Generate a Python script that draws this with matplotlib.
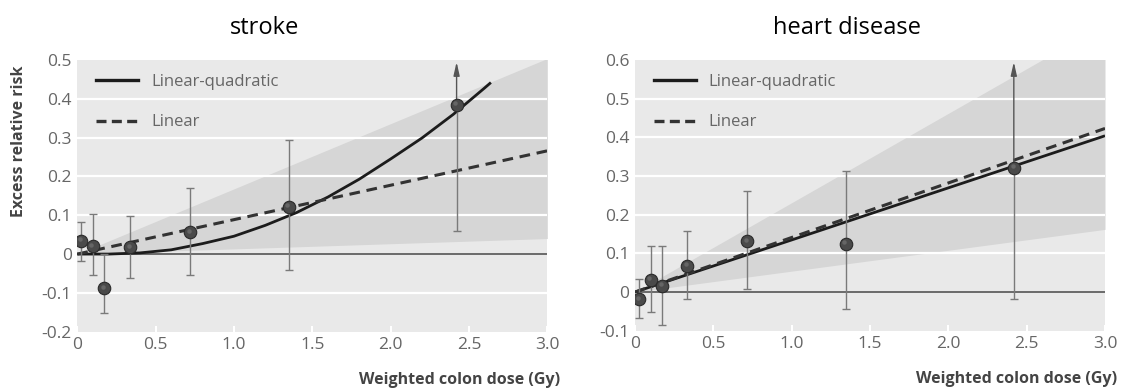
import numpy as np
import matplotlib
matplotlib.use("Agg")
import matplotlib.pyplot as plt
from matplotlib.lines import Line2D

plt.rcParams['font.family'] = ['Open Sans', 'DejaVu Sans']

# ---------------- data ----------------
titles = ["stroke", "heart disease"]

# stroke
stroke_dose = [0.023, 0.098, 0.169, 0.335, 0.720, 1.349, 2.421]
stroke_err = [0.034, 0.020, -0.088, 0.017, 0.056, 0.122, 0.385]
stroke_lo = [-0.017, -0.054, -0.151, -0.061, -0.054, -0.040, 0.059]
stroke_hi = [0.082, 0.103, 0.000, 0.099, 0.170, 0.294, 0.500]
stroke_open = [False, False, False, False, False, False, True]
stroke_lq_x = [0, 0.2, 0.4, 0.6, 0.8, 1.0, 1.2, 1.4, 1.6, 1.8, 2.0, 2.2, 2.4, 2.6, 2.64]
stroke_lq_y = [0, 0.000, 0.003, 0.011, 0.027, 0.046, 0.074, 0.107, 0.147, 0.193,
               0.245, 0.299, 0.360, 0.428, 0.442]
stroke_lin_x = [0, 3.0]
stroke_lin_y = [0, 0.266]
stroke_ci_x = [0, 3.0]
stroke_ci_lo = [0, 0.040]
stroke_ci_hi = [0, 0.504]

# heart disease
heart_dose = [0.025, 0.100, 0.174, 0.331, 0.715, 1.345, 2.418]
heart_err = [-0.019, 0.032, 0.016, 0.067, 0.131, 0.124, 0.321]
heart_lo = [-0.068, -0.052, -0.086, -0.019, 0.009, -0.045, -0.017]
heart_hi = [0.034, 0.118, 0.118, 0.157, 0.261, 0.313, 0.600]
heart_open = [False, False, False, False, False, False, True]
heart_lq_x = [0, 3.0]
heart_lq_y = [0, 0.404]
heart_lin_x = [0, 3.0]
heart_lin_y = [0, 0.423]
heart_ci_x = [0, 3.0]
heart_ci_lo = [0, 0.162]
heart_ci_hi = [0, 0.693]

x_ticks = [0, 0.5, 1.0, 1.5, 2.0, 2.5, 3.0]
x_ticklabels = ["0", "0.5", "1.0", "1.5", "2.0", "2.5", "3.0"]
stroke_yticks = [-0.2, -0.1, 0, 0.1, 0.2, 0.3, 0.4, 0.5]
stroke_yticklabels = ["-0.2", "-0.1", "0", "0.1", "0.2", "0.3", "0.4", "0.5"]
heart_yticks = [-0.1, 0, 0.1, 0.2, 0.3, 0.4, 0.5, 0.6]
heart_yticklabels = ["-0.1", "0", "0.1", "0.2", "0.3", "0.4", "0.5", "0.6"]

xlabel = "Weighted colon dose (Gy)"
ylabel = "Excess relative risk"
legend_labels = ["Linear-quadratic", "Linear"]

# ---------------- figure ----------------
W, H = 1122, 390
fig = plt.figure(figsize=(W / 100, H / 100), dpi=100)

BG = "#e9e9e9"
BAND = "#d6d6d6"
TXT = "#666666"
LAB = "#444444"


def px_axes(l, r, t, b):
    return fig.add_axes([l / W, 1 - b / H, (r - l) / W, (b - t) / H])


panels = [
    dict(box=(77.3, 547.3, 60, 331.7), ylim=(-0.2, 0.5), yticks=stroke_yticks,
         yticklabels=stroke_yticklabels, dose=stroke_dose, err=stroke_err,
         lo=stroke_lo, hi=stroke_hi, open=stroke_open,
         lqx=stroke_lq_x, lqy=stroke_lq_y, linx=stroke_lin_x, liny=stroke_lin_y,
         cix=stroke_ci_x, cilo=stroke_ci_lo, cihi=stroke_ci_hi,
         title=titles[0], title_x=265, ylab=True, xlab_x=1.027),
    dict(box=(635, 1105, 60, 330.7), ylim=(-0.1, 0.6), yticks=heart_yticks,
         yticklabels=heart_yticklabels, dose=heart_dose, err=heart_err,
         lo=heart_lo, hi=heart_hi, open=heart_open,
         lqx=heart_lq_x, lqy=heart_lq_y, linx=heart_lin_x, liny=heart_lin_y,
         cix=heart_ci_x, cilo=heart_ci_lo, cihi=heart_ci_hi,
         title=titles[1], title_x=847, ylab=False, xlab_x=1.025),
]

for p in panels:
    ax = px_axes(*p["box"])
    ax.set_facecolor(BG)
    ax.set_xlim(0, 3.0)
    ax.set_ylim(*p["ylim"])
    for s in ax.spines.values():
        s.set_visible(False)

    # CI wedge
    ax.fill_between(p["cix"], p["cilo"], p["cihi"], color=BAND, lw=0, zorder=0.5)

    # white grid lines
    for yv in p["yticks"]:
        if yv != 0 and yv != p["ylim"][0] and yv != p["ylim"][1]:
            ax.axhline(yv, color="white", lw=1.6, zorder=1)
    ax.axhline(0, color="#555555", lw=1.2, zorder=2)

    # fitted curves
    lq, = ax.plot(p["lqx"], p["lqy"], color="#1c1c1c", lw=2.0, zorder=3,
                  solid_capstyle="butt", solid_joinstyle="round")
    ln, = ax.plot(p["linx"], p["liny"], color="#333333", lw=2.2, zorder=3,
                  linestyle=(0, (3.5, 2.2)))

    # error bars
    dose = np.array(p["dose"])
    err = np.array(p["err"])
    lo = np.array(p["lo"])
    hi = np.array(p["hi"])
    opn = np.array(p["open"])
    closed = ~opn
    ax.errorbar(dose[closed], err[closed],
                yerr=[err[closed] - lo[closed], hi[closed] - err[closed]],
                fmt="none", ecolor="#7a7a7a", elinewidth=1.0, capsize=2.6,
                capthick=1.0, zorder=4)
    # open-ended bars: lower cap + arrow to top
    ax.errorbar(dose[opn], err[opn], yerr=[err[opn] - lo[opn], np.zeros(opn.sum())],
                fmt="none", ecolor="#7a7a7a", elinewidth=1.0, capsize=2.6,
                capthick=1.0, zorder=4)
    for d, e, h in zip(dose[opn], err[opn], hi[opn]):
        ax.annotate("", xy=(d, h - 0.005), xytext=(d, e),
                    arrowprops=dict(arrowstyle="-|>,head_length=0.8,head_width=0.18",
                                    color="#555555", lw=1.0, shrinkA=0, shrinkB=0),
                    zorder=4)

    # points
    ax.plot(dose, err, "o", ms=9, mfc="#4a4a4a", mec="#2a2a2a", mew=0.8, zorder=5)
    ax.plot(dose - 0.008, err + (p["ylim"][1] - p["ylim"][0]) * 0.006, "o", ms=3.2,
            mfc="#7a7a7a", mec="none", zorder=6, alpha=0.6)

    # ticks
    ax.set_xticks(x_ticks)
    ax.set_xticklabels(x_ticklabels)
    ax.set_yticks(p["yticks"])
    ax.set_yticklabels(p["yticklabels"])
    ax.tick_params(axis="x", direction="in", length=4, width=1.5, color="white",
                   pad=4, labelsize=12.5, labelcolor=TXT)
    ax.tick_params(axis="y", length=0, pad=4, labelsize=12.5, labelcolor=TXT)

    # axis labels
    ax.set_xlabel(xlabel, fontsize=11.5, fontweight="bold", color=LAB)
    ax.xaxis.label.set_ha("right")
    ax.xaxis.label.set_va("center")
    ax.xaxis.set_label_coords(p["xlab_x"], -0.178)
    if p["ylab"]:
        ax.set_ylabel(ylabel, fontsize=11.5, fontweight="bold", color=LAB)
        ax.yaxis.label.set_va("center")
        ax.yaxis.set_label_coords(-0.124, 0.70)

    # legend
    h1 = Line2D([], [], color="#1c1c1c", lw=2.4)
    h2 = Line2D([], [], color="#333333", lw=2.4, linestyle=(0, (3.0, 1.6)))
    leg = ax.legend([h1, h2], legend_labels, loc="upper left",
                    bbox_to_anchor=(0.01, 1.0), frameon=False, fontsize=12,
                    handlelength=2.5, handletextpad=0.8, labelspacing=1.45,
                    borderaxespad=0.45)
    for t in leg.get_texts():
        t.set_color(TXT)

    # title
    fig.text(p["title_x"] / W, 1 - 28 / H, p["title"], ha="center", va="center",
             fontsize=17, color="black")

fig.savefig("out.png", dpi=100, facecolor="white")
